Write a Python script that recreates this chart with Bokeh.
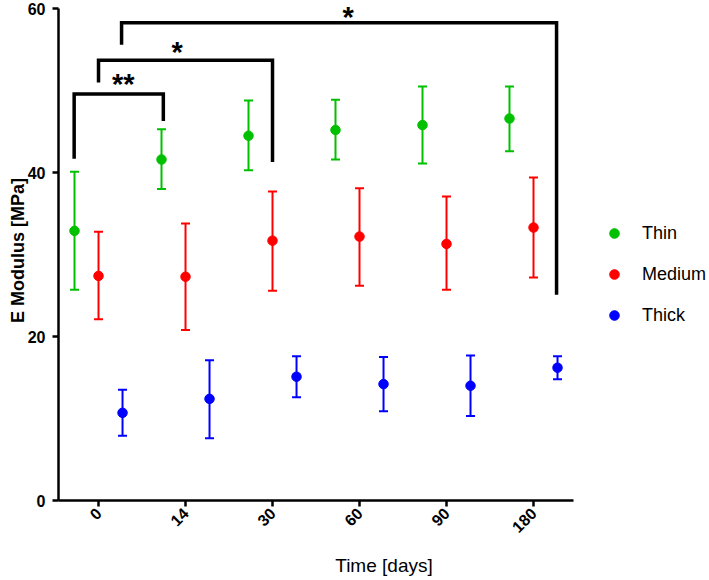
import math
from bokeh.plotting import figure
from bokeh.models import (ColumnDataSource, Whisker, TeeHead, FixedTicker, Legend,
                          LegendItem, Label, Range1d)
from bokeh.embed import file_html
from bokeh.resources import INLINE

# ---- data ----
days = ["0", "14", "30", "60", "90", "180"]
thin_mean = [32.9, 41.6, 44.5, 45.2, 45.8, 46.6]
thin_upper = [40.1, 45.3, 48.8, 48.9, 50.5, 50.5]
thin_lower = [25.7, 38.0, 40.3, 41.6, 41.1, 42.6]
medium_mean = [27.4, 27.3, 31.7, 32.2, 31.3, 33.3]
medium_upper = [32.8, 33.8, 37.7, 38.1, 37.1, 39.4]
medium_lower = [22.1, 20.8, 25.6, 26.2, 25.7, 27.2]
thick_mean = [10.7, 12.4, 15.1, 14.2, 14.0, 16.2]
thick_upper = [13.5, 17.1, 17.6, 17.5, 17.7, 17.6]
thick_lower = [7.9, 7.6, 12.6, 10.9, 10.3, 14.8]
y_ticks = [0, 20, 40, 60]

# significance brackets (x in category units, y in MPa)
bracket_left_x = [-0.28, 0.0, 0.265]
bracket_right_x = [0.745, 2.0, 5.265]
bracket_left_y = [41.7, 51.0, 55.6]
bracket_top_y = [49.6, 53.7, 58.3]
bracket_right_y = [46.3, 41.3, 25.1]
star_text = ["**", "*", "*"]
star_x = [0.284, 0.905, 2.87]
star_y = [52.8, 56.7, 61.0]   # top of the text box

series = [
    ("Thin", "#00c000", -0.276, thin_mean, thin_upper, thin_lower),
    ("Medium", "#ff0000", 0.0, medium_mean, medium_upper, medium_lower),
    ("Thick", "#0000ff", 0.276, thick_mean, thick_upper, thick_lower),
]

FONT = "Liberation Sans"

# frame spans the whole right side so that the legend is not clipped;
# the x axis line itself is bounded to the category area
p = figure(width=709, height=580, output_backend="svg", toolbar_location=None,
           x_range=Range1d(-0.46, 7.023), y_range=Range1d(0, 61.0),
           min_border_left=58, min_border_right=0, min_border_top=0,
           min_border_bottom=80)
p.outline_line_color = None
p.grid.visible = False
p.background_fill_color = None
p.border_fill_color = "white"

# axes
for ax in (p.xaxis[0], p.yaxis[0]):
    ax.axis_line_width = 2.5
    ax.axis_line_color = "black"
    ax.major_tick_line_width = 2.5
    ax.major_tick_line_color = "black"
    ax.major_tick_in = 0
    ax.major_tick_out = 6
    ax.minor_tick_line_color = None
    ax.major_label_text_font = FONT
    ax.major_label_text_font_style = "bold"
    ax.major_label_text_font_size = "16px"
    ax.major_label_text_color = "black"
    ax.axis_label_text_font = FONT
    ax.axis_label_text_color = "black"

p.yaxis.ticker = FixedTicker(ticks=y_ticks)
p.yaxis.bounds = (0, 60)
p.yaxis.major_label_standoff = 7
p.yaxis.axis_label = "E Modulus [MPa]"
p.yaxis.axis_label_text_font_style = "bold"
p.yaxis.axis_label_text_font_size = "18px"
p.yaxis.axis_label_standoff = -3

p.xaxis.ticker = FixedTicker(ticks=list(range(len(days))))
p.xaxis.bounds = (-0.46, 5.46)
p.xaxis.major_label_overrides = {i: d for i, d in enumerate(days)}
p.xaxis.major_label_orientation = math.pi / 4
p.xaxis.major_label_standoff = 4
p.xaxis.axis_label = "Time [days]"
p.xaxis.axis_label_text_font_style = "normal"
p.xaxis.axis_label_text_font_size = "19px"
p.xaxis.axis_label_standoff = 14

legend_items = []
for name, color, off, mean, upper, lower in series:
    xs = [i + off for i in range(len(days))]
    src = ColumnDataSource(dict(x=xs, y=mean, upper=upper, lower=lower))
    w = Whisker(base="x", upper="upper", lower="lower", source=src,
                line_color=color, line_width=2,
                upper_head=TeeHead(size=9, line_color=color, line_width=2),
                lower_head=TeeHead(size=9, line_color=color, line_width=2))
    p.add_layout(w)
    r = p.scatter("x", "y", source=src, size=9.5, color=color, marker="circle")
    legend_items.append(LegendItem(label=name, renderers=[r]))

# brackets
bxs = [[a, a, b, b] for a, b in zip(bracket_left_x, bracket_right_x)]
bys = [[l, t, t, r] for l, t, r in zip(bracket_left_y, bracket_top_y, bracket_right_y)]
p.multi_line(bxs, bys, line_color="black", line_width=3.5, line_join="miter")

for t, sx, sy in zip(star_text, star_x, star_y):
    p.add_layout(Label(x=sx, y=sy, text=t, text_font=FONT, text_font_style="bold",
                       text_font_size="29px", text_align="center",
                       text_baseline="top", text_color="black"))

legend = Legend(items=legend_items, location=(544, 173),
                glyph_width=24, glyph_height=24, label_height=24, spacing=17,
                label_standoff=16, padding=0, margin=0,
                border_line_color=None, background_fill_alpha=0,
                label_text_font=FONT, label_text_font_size="18px",
                label_text_color="black")
p.add_layout(legend)

open("out.html", "w").write(file_html(p, INLINE))
